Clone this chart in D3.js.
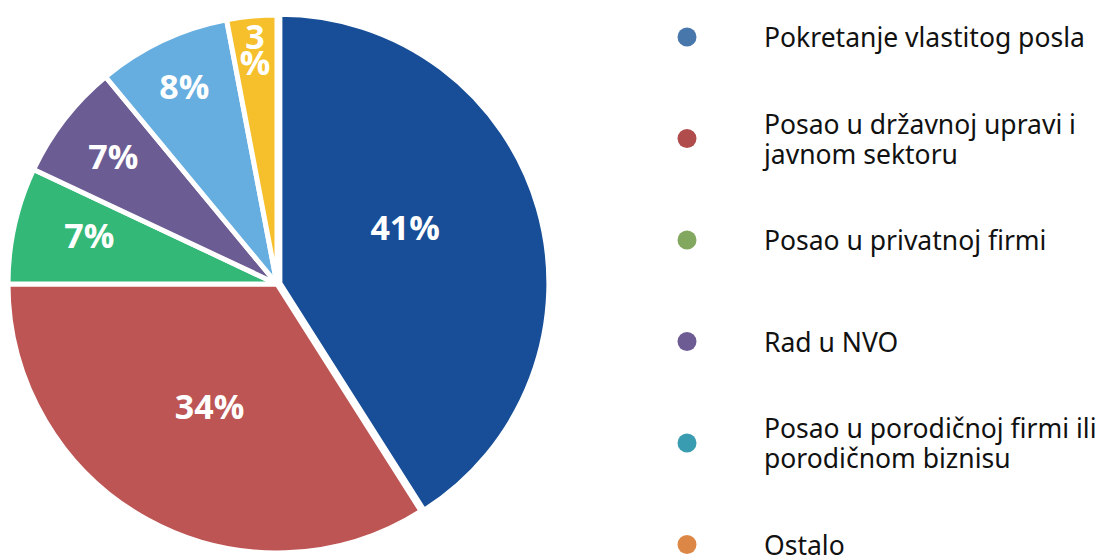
<!DOCTYPE html>
<html>
<head>
<meta charset="utf-8">
<script src="https://cdn.jsdelivr.net/npm/d3@7"></script>
<style>
  body { margin: 0; background: #fff; }
  svg { display: block; }
</style>
</head>
<body>
<script>
// data
var categories = ["Pokretanje vlastitog posla",
                  "Posao u državnoj upravi i javnom sektoru",
                  "Posao u privatnoj firmi",
                  "Rad u NVO",
                  "Posao u porodičnoj firmi ili porodičnom biznisu",
                  "Ostalo"];
var legendLines = [["Pokretanje vlastitog posla"],
                   ["Posao u državnoj upravi i", "javnom sektoru"],
                   ["Posao u privatnoj firmi"],
                   ["Rad u NVO"],
                   ["Posao u porodičnoj firmi ili", "porodičnom biznisu"],
                   ["Ostalo"]];
var values = [41, 34, 7, 7, 8, 3];
var sliceColors = ["#184e97", "#bc5553", "#33b877", "#6b5c94", "#66aee0", "#f6bf2c"];
var legendColors = ["#4777ab", "#b04c4c", "#82a860", "#6d5c94", "#3a9cb0", "#dd8746"];

var w = 1099, h = 555;
var cx = 277, cy = 284, R = 269;

var svg = d3.select("body").append("svg")
    .attr("width", w)
    .attr("height", h);

var pie = d3.pie().sort(null).value(function(d) { return d; });
var arcs = pie(values);
var arc = d3.arc().innerRadius(0).outerRadius(R);

var g = svg.append("g").attr("transform", "translate(" + cx + "," + cy + ")");

g.selectAll("path")
    .data(arcs)
    .enter()
    .append("path")
    .attr("d", arc)
    .attr("transform", function(d, i) {
        if (i != 0) return null;
        var a = (d.startAngle + d.endAngle) / 2;
        return "translate(" + (Math.sin(a) * 3) + "," + (-Math.cos(a) * 3) + ")";
    })
    .attr("fill", function(d, i) { return sliceColors[i]; })
    .attr("stroke", "#fff")
    .attr("stroke-width", 5)
    .attr("stroke-linejoin", "round");

// label radius: big slices near the middle, small ones pushed outward
var labelR = [0.52, 0.52, 0.72, 0.77, 0.81, 0.87];

var labels = g.selectAll("text.pct")
    .data(arcs)
    .enter()
    .append("text")
    .attr("class", "pct")
    .attr("text-anchor", "middle")
    .attr("font-family", "'Open Sans', sans-serif")
    .attr("font-weight", "bold")
    .attr("font-size", "34px")
    .attr("fill", "#fff")
    .attr("transform", function(d, i) {
        var a = (d.startAngle + d.endAngle) / 2;
        if (i == 0) a -= 0.13;
        if (i == 2) a += 0.03;
        var r = R * labelR[i];
        return "translate(" + (Math.sin(a) * r) + "," + (-Math.cos(a) * r) + ")";
    });

labels.each(function(d, i) {
    var t = d3.select(this);
    var txt = values[i] + "%";
    if (values[i] < 5) {
        // too narrow: wraps like the original
        t.append("tspan").attr("x", 0).attr("y", -2).text(values[i]);
        t.append("tspan").attr("x", 0).attr("y", 24).text("%");
    } else {
        t.append("tspan").attr("x", 0).attr("y", 12).text(txt);
    }
});

// legend
var lg = svg.append("g").attr("transform", "translate(687,37)");
var rowStep = 101.5;

var rows = lg.selectAll("g.row")
    .data(categories)
    .enter()
    .append("g")
    .attr("class", "row")
    .attr("transform", function(d, i) { return "translate(0," + (i * rowStep) + ")"; });

rows.append("circle")
    .attr("r", 9.5)
    .attr("fill", function(d, i) { return legendColors[i]; });

rows.append("text")
    .attr("font-family", "'Noto Sans', sans-serif")
    .attr("font-size", "26.5px")
    .attr("fill", "#111")
    .each(function(d, i) {
        var lines = legendLines[i];
        var t = d3.select(this);
        var y0 = lines.length == 1 ? 10 : -5;
        lines.forEach(function(s, j) {
            t.append("tspan").attr("x", 77).attr("y", y0 + j * 30).text(s);
        });
    });
</script>
</body>
</html>
